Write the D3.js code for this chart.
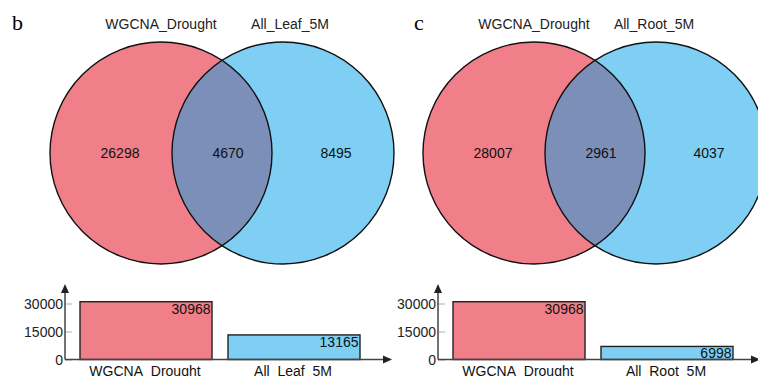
<!DOCTYPE html>
<html>
<head>
<meta charset="utf-8">
<script src="https://cdn.jsdelivr.net/npm/d3@7"></script>
<style>
  body { margin: 0; background: #fff; }
  svg { display: block; font-family: "Liberation Sans", Arial, sans-serif; }
</style>
</head>
<body>
<svg id="viz_area" width="758" height="376"></svg>
<script>
// chart values
const panelLetters = ["b", "c"]
const leftSetName = "WGCNA_Drought"
const rightSetNames = ["All_Leaf_5M", "All_Root_5M"]
const leftOnly = [26298, 28007]
const overlapCounts = [4670, 2961]
const rightOnly = [8495, 4037]
const leftTotals = [30968, 30968]
const rightTotals = [13165, 6998]
const yTickValues = [0, 15000, 30000]

const colors = {
    left: "#f17f89",
    right: "#7fcff4",
    both: "#7b8fb8"
}

const venn = { cy: 153, r: 111, leftCx: 161, rightCx: 283 }
const bars = { axisX: 65, baseY: 359.5, topY: 284, x0: 80, x1: 360 }
const panelShift = [0, 373]
const letterX = [12, 41]
const xAxisEnd = [392, 760]

const svg = d3.select("#viz_area")

panelLetters.forEach(function (letter, i) {
    drawPanel(i, svg.append("g").attr("transform", "translate(" + panelShift[i] + ",0)"))
})

function drawPanel(i, g) {
    g.append("text")
        .attr("x", letterX[i])
        .attr("y", 30)
        .attr("font-family", "'Liberation Serif', 'Times New Roman', serif")
        .attr("font-size", 22)
        .text(panelLetters[i])

    drawVenn(i, g)
    drawBars(i, g)
}

function drawVenn(i, g) {
    const circles = [
        { cx: venn.leftCx, fill: colors.left },
        { cx: venn.rightCx, fill: colors.right }
    ]

    const clipId = "clip-left-" + i
    g.append("clipPath").attr("id", clipId)
        .append("circle")
        .attr("cx", venn.leftCx).attr("cy", venn.cy).attr("r", venn.r)

    g.selectAll("circle.fill")
        .data(circles)
        .enter()
        .append("circle")
        .attr("class", "fill")
        .attr("cx", function (d) { return d.cx })
        .attr("cy", venn.cy)
        .attr("r", venn.r)
        .attr("fill", function (d) { return d.fill })

    g.append("circle")
        .attr("cx", venn.rightCx).attr("cy", venn.cy).attr("r", venn.r)
        .attr("fill", colors.both)
        .attr("clip-path", "url(#" + clipId + ")")

    g.selectAll("circle.edge")
        .data(circles)
        .enter()
        .append("circle")
        .attr("class", "edge")
        .attr("cx", function (d) { return d.cx })
        .attr("cy", venn.cy)
        .attr("r", venn.r)
        .attr("fill", "none")
        .attr("stroke", "#111")
        .attr("stroke-width", 1.4)

    const names = [
        { text: leftSetName, x: 161 },
        { text: rightSetNames[i], x: i === 0 ? 290 : 281 }
    ]
    g.selectAll("text.setname")
        .data(names)
        .enter()
        .append("text")
        .attr("class", "setname")
        .attr("x", function (d) { return d.x })
        .attr("y", 29)
        .attr("text-anchor", "middle")
        .attr("font-size", 14)
        .attr("fill", "#222")
        .text(function (d) { return d.text })

    const counts = [
        { v: leftOnly[i], x: venn.leftCx - 41 },
        { v: overlapCounts[i], x: venn.leftCx + 67 },
        { v: rightOnly[i], x: venn.rightCx + 53 }
    ]
    g.selectAll("text.count")
        .data(counts)
        .enter()
        .append("text")
        .attr("class", "count")
        .attr("x", function (d) { return d.x })
        .attr("y", 157.5)
        .attr("text-anchor", "middle")
        .attr("font-size", 14)
        .attr("fill", "#111")
        .text(function (d) { return d.v })
}

function drawBars(i, g) {
    const cats = [leftSetName, rightSetNames[i]]
    const values = [leftTotals[i], rightTotals[i]]
    const data = cats.map(function (c, k) { return { name: c, value: values[k] } })

    const xScale = d3.scaleBand()
        .domain(cats)
        .range([bars.x0, bars.x1])
        .paddingInner(0.108)
        .paddingOuter(0)

    const yScale = d3.scaleLinear()
        .domain([0, 30000])
        .range([bars.baseY, bars.baseY - 56])

    // tick marks and labels
    const yAxis = g.append("g")
        .attr("transform", "translate(" + bars.axisX + ",0)")
        .call(d3.axisRight(yScale).tickValues(yTickValues).tickSize(7).tickFormat(""))
    yAxis.select(".domain").remove()
    yAxis.selectAll(".tick line").attr("stroke", "#bbb").attr("stroke-width", 1.2)

    g.selectAll("text.ytick")
        .data(yTickValues)
        .enter()
        .append("text")
        .attr("class", "ytick")
        .attr("x", bars.axisX - 2)
        .attr("y", function (d) { return yScale(d) + 5 })
        .attr("text-anchor", "end")
        .attr("font-size", 14)
        .attr("fill", "#222")
        .text(function (d) { return d })

    g.selectAll("rect.bar")
        .data(data)
        .enter()
        .append("rect")
        .attr("class", "bar")
        .attr("x", function (d) { return xScale(d.name) })
        .attr("y", function (d) { return yScale(d.value) })
        .attr("width", xScale.bandwidth())
        .attr("height", function (d) { return bars.baseY - yScale(d.value) })
        .attr("fill", function (d, k) { return k === 0 ? colors.left : colors.right })
        .attr("stroke", "#222")
        .attr("stroke-width", 1.4)

    g.selectAll("text.value")
        .data(data)
        .enter()
        .append("text")
        .attr("class", "value")
        .attr("x", function (d) { return xScale(d.name) + xScale.bandwidth() - 1.5 })
        .attr("y", function (d) { return yScale(d.value) + 12 })
        .attr("text-anchor", "end")
        .attr("font-size", 14)
        .attr("fill", "#111")
        .text(function (d) { return d.value })

    // category names sit at the very bottom edge, cut off as in the source figure
    g.selectAll("text.cat")
        .data(data)
        .enter()
        .append("text")
        .attr("class", "cat")
        .attr("x", function (d) { return xScale(d.name) + xScale.bandwidth() / 2 - 1 })
        .attr("y", 375.5)
        .attr("text-anchor", "middle")
        .attr("font-size", 14)
        .attr("fill", "#111")
        .text(function (d) { return d.name })

    // axes with arrow heads
    const axisColor = "#444"
    const endX = xAxisEnd[i] - panelShift[i]
    g.append("line")
        .attr("x1", bars.axisX).attr("y1", bars.baseY)
        .attr("x2", bars.axisX).attr("y2", bars.topY + 6)
        .attr("stroke", axisColor).attr("stroke-width", 1.5)
    g.append("path")
        .attr("d", "M" + bars.axisX + "," + bars.topY + "l-4,9h8z")
        .attr("fill", "#222")
    g.append("line")
        .attr("x1", bars.axisX).attr("y1", bars.baseY)
        .attr("x2", endX - 6).attr("y2", bars.baseY)
        .attr("stroke", axisColor).attr("stroke-width", 1.5)
    g.append("path")
        .attr("d", "M" + endX + "," + bars.baseY + "l-9,-4v8z")
        .attr("fill", "#222")
}
</script>
</body>
</html>
